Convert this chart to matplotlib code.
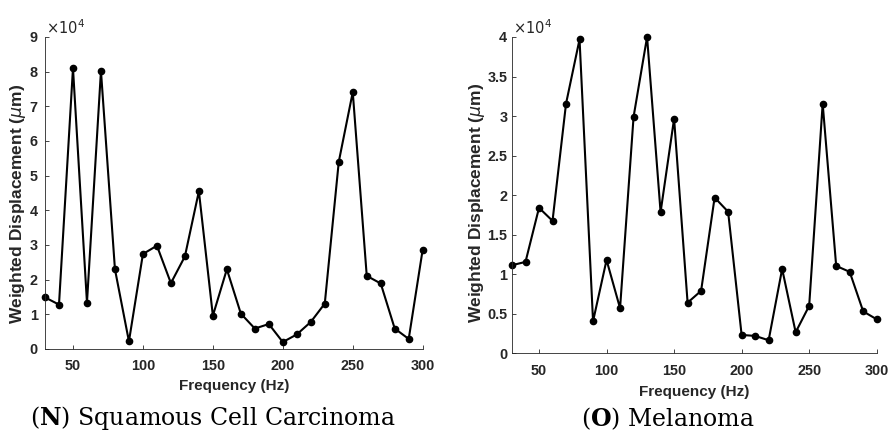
import matplotlib
matplotlib.use("Agg")
import matplotlib.pyplot as plt
import numpy as np

# Data (values in units of 1e4 um)
freq = list(range(30, 301, 10))
scc_vals = [1.49, 1.28, 8.10, 1.34, 8.02, 2.30, 0.22, 2.74, 2.98, 1.90,
            2.67, 4.55, 0.96, 2.30, 1.02, 0.59, 0.72, 0.20, 0.42, 0.78,
            1.31, 5.40, 7.41, 2.11, 1.89, 0.59, 0.29, 2.87]
mel_vals = [1.114, 1.156, 1.84, 1.675, 3.157, 3.97, 0.405, 1.18, 0.57, 2.99,
            4.00, 1.785, 2.966, 0.64, 0.79, 1.97, 1.79, 0.232, 0.22, 0.165,
            1.067, 0.266, 0.60, 3.157, 1.105, 1.03, 0.53, 0.43]
scc_yticks = [0, 1, 2, 3, 4, 5, 6, 7, 8, 9]
mel_yticks = [0, 0.5, 1, 1.5, 2, 2.5, 3, 3.5, 4]
mel_yticklabels = ["0", "0.5", "1", "1.5", "2", "2.5", "3", "3.5", "4"]
xticks = [50, 100, 150, 200, 250, 300]
captions = [("N", "Squamous Cell Carcinoma"), ("O", "Melanoma")]

W, H = 888, 432
fig = plt.figure(figsize=(W / 100, H / 100), dpi=100)

dark = "#262626"
sans = "Liberation Sans"

def make_axes(px_left, px_right, px_top, px_bottom):
    return fig.add_axes([px_left / W, 1 - px_bottom / H,
                         (px_right - px_left) / W, (px_bottom - px_top) / H])

axL = make_axes(45, 422.7, 37, 349)
axR = make_axes(512, 876.7, 37, 353.3)

panels = [
    (axL, scc_vals, scc_yticks, [str(t) for t in scc_yticks], 9,
     (-0.0715, 0.465), -0.1176, 7, 5.2),
    (axR, mel_vals, mel_yticks, mel_yticklabels, 4,
     (-0.0960, 0.474), -0.1233, 8, 3.4),
]

for ax, vals, yt, ytl, ymax, ylab_xy, xlab_y, xpad, ypad in panels:
    ax.plot(freq, vals, color="black", lw=1.5, marker="o", ms=4.5,
            markerfacecolor="black", markeredgecolor="black", clip_on=False)
    ax.set_xlim(30, 300)
    ax.set_ylim(0, ymax)
    ax.set_xticks(xticks)
    ax.set_xticklabels([str(t) for t in xticks])
    ax.set_yticks(yt)
    ax.set_yticklabels(ytl)
    for s in ["top", "right"]:
        ax.spines[s].set_visible(False)
    for s in ["left", "bottom"]:
        ax.spines[s].set_color(dark)
        ax.spines[s].set_linewidth(0.6)
    ax.tick_params(direction="in", length=3, width=0.6, color=dark,
                   labelcolor=dark, labelsize=10.4)
    ax.tick_params(axis="x", pad=xpad)
    ax.tick_params(axis="y", pad=ypad)
    for lab in ax.get_xticklabels() + ax.get_yticklabels():
        lab.set_fontfamily(sans)
        lab.set_fontweight("bold")
    ax.set_ylabel(r"Weighted Displacement ($\mu$m)", fontsize=12.5, fontweight="bold",
                  family=sans, color=dark)
    ax.yaxis.set_label_coords(*ylab_xy)
    ax.yaxis.label.set_va("center")
    ax.set_xlabel("Frequency (Hz)", fontsize=11, fontweight="bold",
                  family=sans, color=dark)
    ax.xaxis.set_label_coords(0.5, xlab_y)
    ax.xaxis.label.set_va("center")
    ax.text(0.003, 1.0, r"$\times10^{4}$", transform=ax.transAxes,
            fontsize=10.5, color=dark, ha="left", va="bottom", family=sans)

cap_pos = [(212.5, 418), (668, 419)]
for (letter, name), (cx, cy) in zip(captions, cap_pos):
    fig.text(cx / W, 1 - cy / H, r"($\mathbf{" + letter + r"}$) " + name,
             ha="center", va="center", fontsize=17, family="DejaVu Serif",
             math_fontfamily="dejavuserif", color="black")

fig.savefig("out.png", dpi=100)
